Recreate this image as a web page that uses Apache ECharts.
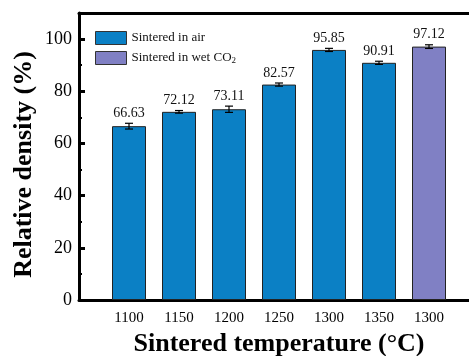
<!DOCTYPE html>
<html lang="en">
<head>
    <meta charset="UTF-8">
    <title>Relative density</title>
    <script src="https://cdn.jsdelivr.net/npm/echarts@6/dist/echarts.min.js"></script>
    <style>
        body { margin: 0; padding: 0; background: #fff; }
        #chart { width: 469px; height: 356px; }
    </style>
</head>
<body>
<div id="chart"></div>
<script>
    // data
    const temps = ['1100', '1150', '1200', '1250', '1300', '1350', '1300'];
    const airValues = [66.63, 72.12, 73.11, 82.57, 95.85, 90.91];
    const co2Values = [97.12];
    const errors = [1.1, 0.5, 1.2, 0.6, 0.6, 0.6, 0.7];

    const airName = 'Sintered in air';
    const co2Name = 'Sintered in wet CO2';
    const serif = "'Liberation Serif', 'Times New Roman', serif";

    const allValues = airValues.concat(co2Values);
    const airData = airValues.map((v, i) => [i + 1, v]);
    const co2Data = co2Values.map((v, i) => [airValues.length + i + 1, v]);
    const errData = allValues.map((v, i) => [i + 1, v, errors[i]]);

    const chart = echarts.init(document.getElementById('chart'));

    chart.setOption({
        animation: false,
        // the original figure is cropped on the right, so the grid runs past the canvas
        grid: { left: 79, top: 13, bottom: 56, width: 400, outerBoundsMode: 'none', containLabel: false },
        legend: {
            orient: 'vertical',
            left: 90,
            top: 26,
            itemWidth: 31,
            itemHeight: 13,
            itemGap: 6,
            icon: 'rect',
            itemStyle: { borderColor: '#333', borderWidth: 1 },
            data: [airName, co2Name],
            formatter: name => name === co2Name ? 'Sintered in wet CO{sub|2}' : name,
            textStyle: {
                fontFamily: serif, fontSize: 13, color: '#111',
                rich: { sub: { fontFamily: serif, fontSize: 9, color: '#111', verticalAlign: 'bottom', padding: [6, 0, 0, 0] } }
            }
        },
        xAxis: [{
            type: 'value',
            min: 0, max: 8, interval: 1,
            name: 'Sintered temperature (°C)',
            nameLocation: 'middle',
            nameGap: 27,
            nameTextStyle: { fontFamily: serif, fontSize: 26, fontWeight: 'bold', color: '#000' },
            axisLine: { lineStyle: { color: '#000', width: 3 } },
            axisTick: { show: false },
            splitLine: { show: false },
            axisLabel: {
                margin: 11,
                fontFamily: serif, fontSize: 15, color: '#000',
                formatter: v => temps[v - 1] || ''
            }
        }, {
            type: 'value',
            position: 'top',
            min: 0, max: 8,
            axisLine: { lineStyle: { color: '#000', width: 3 } },
            axisTick: { show: false },
            axisLabel: { show: false },
            splitLine: { show: false }
        }],
        yAxis: {
            type: 'value',
            min: 0, max: 110, interval: 20,
            name: 'Relative density (%)',
            nameLocation: 'middle',
            nameGap: 42,
            nameMoveOverlap: false,
            nameTextStyle: { fontFamily: serif, fontSize: 26, fontWeight: 'bold', color: '#000', padding: [0, 0, 0, -16] },
            axisLine: { show: true, lineStyle: { color: '#000', width: 3 } },
            axisTick: { inside: true, length: 6, lineStyle: { color: '#000', width: 3 } },
            minorTick: { show: true, splitNumber: 2, length: 3, lineStyle: { color: '#000', width: 2 } },
            splitLine: { show: false },
            axisLabel: {
                margin: 7,
                fontFamily: serif, fontSize: 18, color: '#000',
                formatter: v => v > 100 ? '' : String(v)
            }
        },
        series: [{
            name: airName,
            type: 'bar',
            barWidth: 34,
            barGap: '-100%',
            itemStyle: { color: '#0b80c5', borderColor: '#222', borderWidth: 1 },
            data: airData
        }, {
            name: co2Name,
            type: 'bar',
            barWidth: 34,
            barGap: '-100%',
            itemStyle: { color: '#8080c4', borderColor: '#222', borderWidth: 1 },
            data: co2Data
        }, {
            // error bars and value labels
            type: 'custom',
            z: 5,
            data: errData,
            renderItem: (params, api) => {
                const x = api.value(0), v = api.value(1), e = api.value(2);
                const hi = api.coord([x, v + e]);
                const lo = api.coord([x, v - e]);
                const style = { stroke: '#000', lineWidth: 1.2 };
                return {
                    type: 'group',
                    children: [
                        { type: 'line', shape: { x1: hi[0], y1: hi[1], x2: lo[0], y2: lo[1] }, style },
                        { type: 'line', shape: { x1: hi[0] - 4, y1: hi[1], x2: hi[0] + 4, y2: hi[1] }, style },
                        { type: 'line', shape: { x1: lo[0] - 4, y1: lo[1], x2: lo[0] + 4, y2: lo[1] }, style },
                        {
                            type: 'text',
                            style: {
                                x: hi[0], y: hi[1] - 3,
                                text: v.toFixed(2),
                                align: 'center', verticalAlign: 'bottom',
                                font: '14px ' + serif,
                                fill: '#111'
                            }
                        }
                    ]
                };
            }
        }]
    });
</script>
</body>
</html>
